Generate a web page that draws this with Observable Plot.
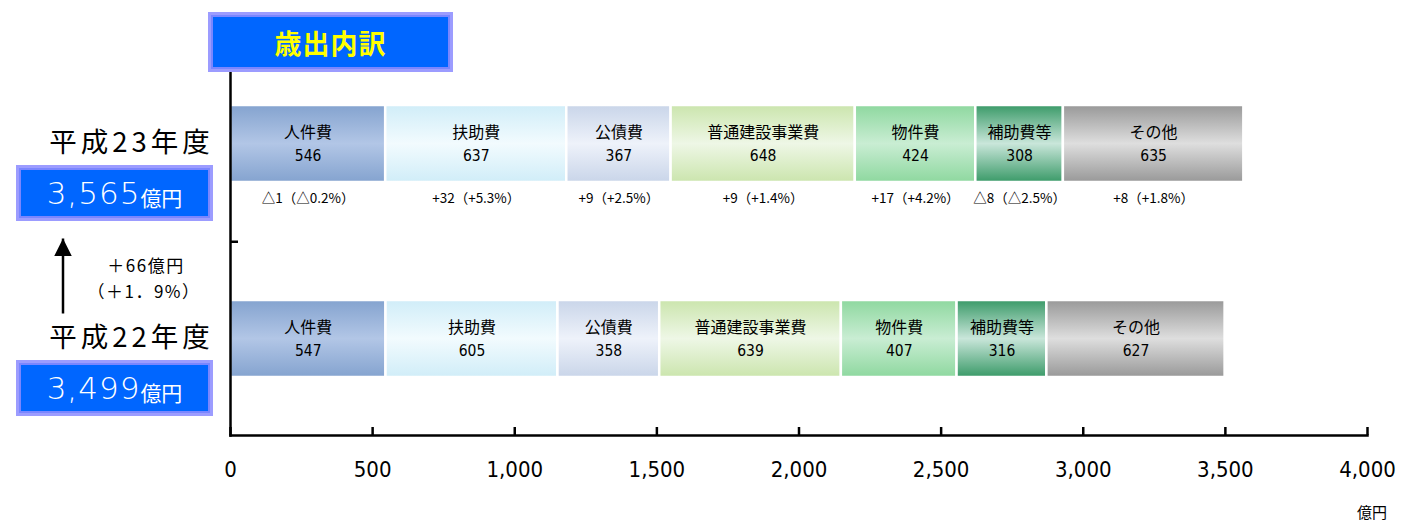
<!DOCTYPE html>
<html><head><meta charset="utf-8">
<script src="https://cdn.jsdelivr.net/npm/d3@7"></script>
<script src="https://cdn.jsdelivr.net/npm/@observablehq/plot@0.6"></script>
<style>
body{margin:0;background:#fff;}
#wrap{position:relative;width:1402px;height:520px;overflow:hidden;font-family:"Noto Sans CJK JP",sans-serif;}
#wrap svg.main{position:absolute;left:0;top:0;}
#wrap svg.main .yearlbl text{letter-spacing:4px;}
.box{position:absolute;box-sizing:border-box;background:#0066ff;border:3px solid #9c9cff;box-shadow:inset 0 0 0 2px #7a86ff;display:flex;align-items:center;justify-content:center;}
.title{color:#ffff00;font-weight:bold;font-size:27px;letter-spacing:1px;}
.total{color:#fff;}
.total .num{font-size:31px;font-family:"DejaVu Sans","Noto Sans CJK JP",sans-serif;font-weight:300;letter-spacing:1px;}
.total .unit{font-size:21px;margin-top:8px;}
.lbl{position:absolute;transform:translate(-50%,-50%);white-space:nowrap;color:#000;}
</style></head><body><div id="wrap"></div>
<script>
const title = "歳出内訳";
const years = ["平成23年度", "平成22年度"];
const totals = [3565, 3499];
const categories = ["人件費", "扶助費", "公債費", "普通建設事業費", "物件費", "補助費等", "その他"];
const valuesH23 = [546, 637, 367, 648, 424, 308, 635];
const valuesH22 = [547, 605, 358, 639, 407, 316, 627];
const changesH23 = ["△1（△0.2%）", "+32（+5.3%）", "+9（+2.5%）", "+9（+1.4%）", "+17（+4.2%）", "△8（△2.5%）", "+8（+1.8%）"];
const totalChange = "＋66億円";
const totalChangePct = "（＋1．9%）";
const unitLabel = "億円";
const xTicks = [0, 500, 1000, 1500, 2000, 2500, 3000, 3500, 4000];
const edgeColors = ["#84a3cf", "#d0edf8", "#c9d5e9", "#cbe5ad", "#8ed89f", "#3a9a68", "#989898"];
const midColors  = ["#b2c6e6", "#f2fbfe", "#eef2fa", "#eef7e6", "#c9edd3", "#c9e6da", "#dedede"];

const rows = [];
[valuesH23, valuesH22].forEach((vals, yi) => {
  vals.forEach((v, ci) => rows.push({year: years[yi], cat: categories[ci], value: v, ci,
    change: yi === 0 ? changesH23[ci] : ""}));
});
const rowsH23 = rows.filter(d => d.year === years[0]);

const font = "'DejaVu Sans Condensed','Noto Sans CJK JP',sans-serif";
const jp = "'Noto Sans CJK JP',sans-serif";

const chart = Plot.plot({
  width: 1402, height: 520,
  marginLeft: 230, marginRight: 35, marginTop: 70, marginBottom: 85,
  x: {domain: [0, 4000], axis: null},
  y: {domain: years, range: [45, 436], padding: 0, axis: null},
  style: {fontFamily: font, background: "transparent", color: "#000"},
  marks: [
    Plot.barX(rows, Plot.stackX({x: "value", y: "year", fill: d => `url(#grad${d.ci})`,
      stroke: "white", strokeWidth: 2.5, insetTop: 59, insetBottom: 59})),
    Plot.text(rows, Plot.stackX({x: "value", y: "year", text: "cat", dy: -11.5, fontSize: 16, fontFamily: jp})),
    Plot.text(rows, Plot.stackX({x: "value", y: "year", text: d => String(d.value), dy: 12.5, fontSize: 15.5})),
    Plot.text(rowsH23, Plot.stackX({x: "value", y: "year", text: "change", dy: 55, fontSize: 13.5, fontFamily: jp})),
    Plot.text(years, {y: d => d, frameAnchor: "left", dx: -99, dy: -1, text: d => d, fontSize: 27.5, textAnchor: "middle", fontFamily: jp, className: "yearlbl"}),
    Plot.frame({anchor: "bottom", strokeWidth: 2.5}),
    Plot.frame({anchor: "left", strokeWidth: 2.5}),
    Plot.tickX(xTicks, {x: d => d, insetTop: 357, strokeWidth: 2.5}),
    Plot.tickY([years[0]], {y: d => d, dy: 97.75, insetRight: 1129, strokeWidth: 2.5}),
    Plot.axisX(xTicks, {tickSize: 0, tickPadding: 26, fontSize: 22, tickFormat: d3.format(","), label: null})
  ]
});
chart.classList.add("main");

// gradients
const defs = d3.select(chart).insert("defs", ":first-child");
edgeColors.forEach((c, i) => {
  const g = defs.append("linearGradient").attr("id", "grad" + i).attr("x1", 0).attr("y1", 0).attr("x2", 0).attr("y2", 1);
  g.append("stop").attr("offset", "0%").attr("stop-color", c);
  g.append("stop").attr("offset", "50%").attr("stop-color", midColors[i]);
  g.append("stop").attr("offset", "100%").attr("stop-color", c);
});

const wrap = document.getElementById("wrap");
wrap.appendChild(chart);

const ys = chart.scale("y");
const center = y => ys.apply(y) + (ys.bandwidth || 0) / 2;

// title box
const tb = document.createElement("div");
tb.className = "box title";
Object.assign(tb.style, {left: "208px", top: "12px", width: "245px", height: "60px"});
tb.textContent = title;
wrap.appendChild(tb);

// totals
years.forEach((y, i) => {
  const c = center(y);
  const b = document.createElement("div");
  b.className = "box total";
  Object.assign(b.style, {left: "16px", top: (c + 21) + "px", width: "197px", height: "56px"});
  b.innerHTML = `<span class="num">${d3.format(",")(totals[i])}</span><span class="unit">億円</span>`;
  wrap.appendChild(b);
});

// arrow and change text
const c23 = center(years[0]), c22 = center(years[1]);
const ov = d3.select(wrap).append("svg").attr("width", 1402).attr("height", 520)
  .style("position", "absolute").style("left", 0).style("top", 0).style("pointer-events", "none");
ov.append("defs").append("marker").attr("id", "ah").attr("viewBox", "0 0 10 10").attr("refX", 10).attr("refY", 5)
  .attr("markerWidth", 7).attr("markerHeight", 7).attr("orient", "auto-start-reverse")
  .append("path").attr("d", "M0,0 L10,5 L0,10 z").attr("fill", "#000");
ov.append("line").attr("x1", 63).attr("x2", 63).attr("y1", c22 - 25).attr("y2", c23 + 95)
  .attr("stroke", "#000").attr("stroke-width", 2.5).attr("marker-end", "url(#ah)");

function label(text, x, y, size, ls) {
  const d = document.createElement("div");
  d.className = "lbl";
  Object.assign(d.style, {left: x + "px", top: y + "px", fontSize: size + "px", letterSpacing: (ls || 0) + "px"});
  d.textContent = text;
  wrap.appendChild(d);
}
label(totalChange, 146, c23 + 120, 17, 1.5);
label(totalChangePct, 144, c23 + 146, 17, 1.5);
label(unitLabel, 1372, 511, 15);
</script>
</body></html>
